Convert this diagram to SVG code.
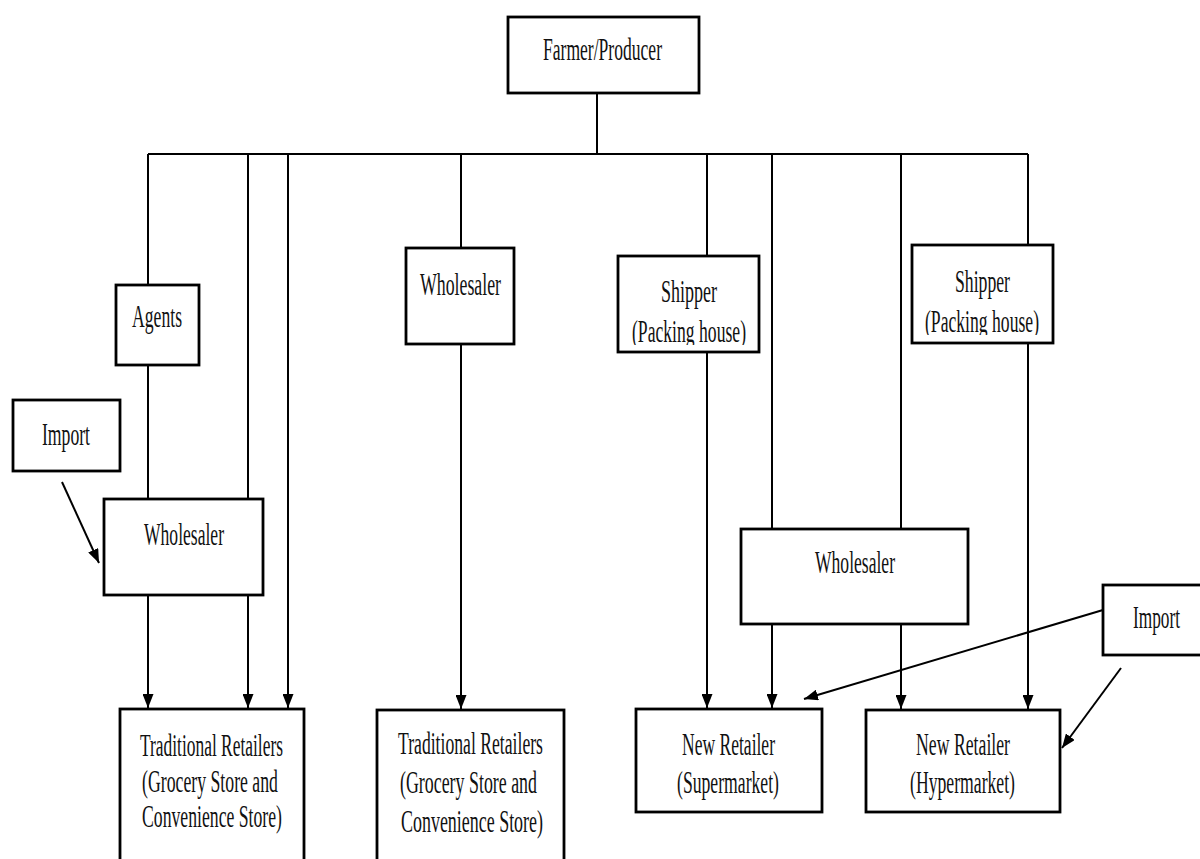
<svg xmlns="http://www.w3.org/2000/svg" width="1200" height="859" viewBox="0 0 1200 859">
<style>
.box{fill:#fff;stroke:#000;stroke-width:2.8}
.t{font-family:"Liberation Serif","Times New Roman",serif;font-size:31px;fill:#111}
.c{stroke:#000;stroke-width:2;fill:none}
.a{marker-end:url(#arr)}
</style>
<defs>
<marker id="arr" markerUnits="userSpaceOnUse" markerWidth="15" markerHeight="11" refX="14" refY="5.5" orient="auto">
<path d="M0,0 L14,5.5 L0,11 z" fill="#000"/>
</marker>
<clipPath id="cs1"><rect x="619" y="257" width="139" height="88"/></clipPath>
<clipPath id="cs2"><rect x="913" y="246" width="139" height="89"/></clipPath>
</defs>
<rect width="1200" height="859" fill="#fff"/>
<g id="connectors">
<line class="c" x1="597" y1="93" x2="597" y2="155"/>
<line class="c" x1="148" y1="154" x2="1028" y2="154"/>
<line class="c" x1="148" y1="154" x2="148" y2="285"/>
<line class="c" x1="148" y1="365" x2="148" y2="499"/>
<line class="c" x1="248" y1="154" x2="248" y2="499"/>
<line class="c a" x1="288" y1="154" x2="288" y2="708"/>
<line class="c a" x1="148" y1="595" x2="148" y2="708"/>
<line class="c a" x1="248" y1="595" x2="248" y2="708"/>
<line class="c" x1="461" y1="154" x2="461" y2="248"/>
<line class="c a" x1="461" y1="344" x2="461" y2="709"/>
<line class="c" x1="707" y1="154" x2="707" y2="256"/>
<line class="c a" x1="707" y1="352" x2="707" y2="708"/>
<line class="c" x1="772" y1="154" x2="772" y2="529"/>
<line class="c a" x1="772" y1="624" x2="772" y2="708"/>
<line class="c" x1="901" y1="154" x2="901" y2="529"/>
<line class="c a" x1="901" y1="624" x2="901" y2="709"/>
<line class="c" x1="1028" y1="154" x2="1028" y2="245"/>
<line class="c a" x1="1028" y1="343" x2="1028" y2="709"/>
<line class="c a" x1="62" y1="482" x2="99" y2="563"/>
<line class="c a" x1="1103" y1="610" x2="804" y2="699"/>
<line class="c a" x1="1121" y1="668" x2="1062" y2="748"/>
</g>
<g id="farmer">
<rect class="box" x="508" y="17" width="191" height="76"/>
<text class="t" x="543" y="60" textLength="119" lengthAdjust="spacingAndGlyphs">Farmer/Producer</text>
</g>
<g id="agents">
<rect class="box" x="116" y="285" width="83" height="80"/>
<text class="t" x="132" y="327" textLength="50" lengthAdjust="spacingAndGlyphs">Agents</text>
</g>
<g id="import-left">
<rect class="box" x="13" y="400" width="107" height="71"/>
<text class="t" x="42" y="445" textLength="48" lengthAdjust="spacingAndGlyphs">Import</text>
</g>
<g id="wholesaler-left">
<rect class="box" x="104" y="499" width="159" height="96"/>
<text class="t" x="144" y="545" textLength="80" lengthAdjust="spacingAndGlyphs">Wholesaler</text>
</g>
<g id="wholesaler-mid">
<rect class="box" x="406" y="248" width="108" height="96"/>
<text class="t" x="420" y="295" textLength="81" lengthAdjust="spacingAndGlyphs">Wholesaler</text>
</g>
<g id="shipper-1">
<rect class="box" x="618" y="256" width="141" height="96"/>
<g clip-path="url(#cs1)">
<text class="t" x="661" y="302" textLength="56" lengthAdjust="spacingAndGlyphs">Shipper</text>
<text class="t" x="632" y="342" textLength="114" lengthAdjust="spacingAndGlyphs">(Packing house)</text>
</g>
</g>
<g id="shipper-2">
<rect class="box" x="912" y="245" width="141" height="98"/>
<g clip-path="url(#cs2)">
<text class="t" x="955" y="292" textLength="55" lengthAdjust="spacingAndGlyphs">Shipper</text>
<text class="t" x="925" y="332" textLength="114" lengthAdjust="spacingAndGlyphs">(Packing house)</text>
</g>
</g>
<g id="wholesaler-right">
<rect class="box" x="741" y="529" width="227" height="95"/>
<text class="t" x="815" y="573" textLength="80" lengthAdjust="spacingAndGlyphs">Wholesaler</text>
</g>
<g id="import-right">
<rect class="box" x="1103" y="585" width="100" height="70"/>
<text class="t" x="1133" y="628" textLength="47" lengthAdjust="spacingAndGlyphs">Import</text>
</g>
<g id="traditional-left">
<rect class="box" x="120" y="709" width="184" height="170"/>
<text class="t" x="140" y="756" textLength="143" lengthAdjust="spacingAndGlyphs">Traditional Retailers</text>
<text class="t" x="142" y="792" textLength="136" lengthAdjust="spacingAndGlyphs">(Grocery Store and</text>
<text class="t" x="142" y="827" textLength="140" lengthAdjust="spacingAndGlyphs">Convenience Store)</text>
</g>
<g id="traditional-mid">
<rect class="box" x="377" y="710" width="187" height="170"/>
<text class="t" x="398" y="754" textLength="145" lengthAdjust="spacingAndGlyphs">Traditional Retailers</text>
<text class="t" x="400" y="793" textLength="137" lengthAdjust="spacingAndGlyphs">(Grocery Store and</text>
<text class="t" x="401" y="832" textLength="142" lengthAdjust="spacingAndGlyphs">Convenience Store)</text>
</g>
<g id="supermarket">
<rect class="box" x="636" y="709" width="186" height="103"/>
<text class="t" x="682" y="755" textLength="93" lengthAdjust="spacingAndGlyphs">New Retailer</text>
<text class="t" x="677" y="793" textLength="102" lengthAdjust="spacingAndGlyphs">(Supermarket)</text>
</g>
<g id="hypermarket">
<rect class="box" x="866" y="710" width="194" height="102"/>
<text class="t" x="916" y="755" textLength="94" lengthAdjust="spacingAndGlyphs">New Retailer</text>
<text class="t" x="910" y="793" textLength="105" lengthAdjust="spacingAndGlyphs">(Hypermarket)</text>
</g>
</svg>
